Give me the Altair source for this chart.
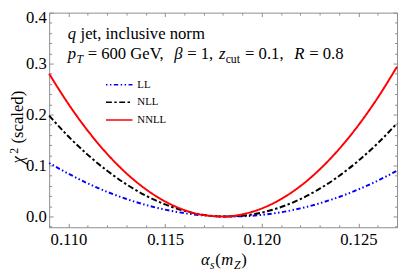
import altair as alt
import pandas as pd

# ---------------- data ----------------
alpha = [0.109, 0.110, 0.111, 0.112, 0.113, 0.114, 0.115, 0.116, 0.117, 0.118,
         0.119, 0.120, 0.121, 0.122, 0.123, 0.124, 0.125, 0.126, 0.127]
chi_LL = [0.105, 0.084, 0.065, 0.0485, 0.0344, 0.0227, 0.0135, 0.0066, 0.0022, 0.0001,
          0.0005, 0.0033, 0.0084, 0.0160, 0.0260, 0.0384, 0.0532, 0.0703, 0.0899]
chi_NLL = [0.198, 0.157, 0.121, 0.0898, 0.0631, 0.0411, 0.0238, 0.0112, 0.0033, 0.0001,
           0.0016, 0.0078, 0.0187, 0.0343, 0.0546, 0.0796, 0.1094, 0.1438, 0.1829]
chi_NNLL = [0.280, 0.2206, 0.1682, 0.1229, 0.0847, 0.0536, 0.0296, 0.0127, 0.0028, 0.0000,
            0.0044, 0.0158, 0.0343, 0.0598, 0.0925, 0.1323, 0.1791, 0.2330, 0.2940]

series = ["LL", "NLL", "NNLL"]
colors = ["#0000ff", "#000000", "#ff0000"]
dashes = [[1.5, 2.5, 1.5, 2.5, 4.5, 2.5], [6, 2.5, 2.5, 2.5], [1, 0]]

x_domain = [0.109, 0.127]
y_domain = [-0.021, 0.4]
x_major = [0.110, 0.115, 0.120, 0.125]
x_minor = [0.109, 0.111, 0.112, 0.113, 0.114, 0.116, 0.117, 0.118, 0.119,
           0.121, 0.122, 0.123, 0.124, 0.126, 0.127]
y_major = [0.0, 0.1, 0.2, 0.3, 0.4]
y_minor = [-0.02, 0.02, 0.04, 0.06, 0.08, 0.12, 0.14, 0.16, 0.18, 0.22, 0.24,
           0.26, 0.28, 0.32, 0.34, 0.36, 0.38]

# ---------------- build chart ----------------
FONT = "'Liberation Serif', 'Times New Roman', Times, serif"
W, H = 355, 219
FRAME = "#8c8c8c"
FS = 17
SUB = 12

rows = []
for name, vals in zip(series, [chi_LL, chi_NLL, chi_NNLL]):
    for a, c in zip(alpha, vals):
        rows.append({"alpha": a, "chi": c, "series": name})
df = pd.DataFrame(rows)

xs = alt.Scale(domain=x_domain, nice=False, zero=False)
ys = alt.Scale(domain=y_domain, nice=False, zero=False)

legend = alt.Legend(
    title=None, orient="none", legendX=66, legendY=68, padding=0,
    symbolType="M-3,0H3", symbolSize=81, symbolStrokeWidth=1.6,
    labelFont=FONT, labelFontSize=11, labelColor="black",
    labelOffset=13, rowPadding=6,
)

lines = alt.Chart(df).mark_line(interpolate="monotone", strokeWidth=2).encode(
    x=alt.X("alpha:Q", scale=xs, axis=alt.Axis(
        orient="bottom", values=x_major, format=".3f", ticks=False, domain=False,
        grid=False, labelFont=FONT, labelFontSize=FS, labelColor="black",
        labelPadding=5, title=None)),
    y=alt.Y("chi:Q", scale=ys, axis=alt.Axis(
        orient="left", values=y_major, format=".1f", ticks=False, domain=False,
        grid=False, labelFont=FONT, labelFontSize=FS, labelColor="black",
        labelPadding=3, title=None,
        labelOffset={"condition": {"test": "datum.value > 0.35", "value": 5}, "value": 0})),
    color=alt.Color("series:N", scale=alt.Scale(domain=series, range=colors), legend=legend),
    strokeDash=alt.StrokeDash("series:N", scale=alt.Scale(domain=series, range=dashes), legend=legend),
)


def tick_layer(xorient, xvals, yorient, yvals, size):
    return alt.Chart(df).mark_point(opacity=0).encode(
        x=alt.X("alpha:Q", scale=xs, axis=alt.Axis(
            orient=xorient, offset=-H, values=xvals, labels=False, domain=False,
            grid=False, ticks=True, tickSize=size, tickColor=FRAME, tickWidth=1,
            title=None)),
        y=alt.Y("chi:Q", scale=ys, axis=alt.Axis(
            orient=yorient, offset=-W, values=yvals, labels=False, domain=False,
            grid=False, ticks=True, tickSize=size, tickColor=FRAME, tickWidth=1,
            title=None)),
    )


ticks = [
    tick_layer("top", x_major, "right", y_major, 4),
    tick_layer("top", x_minor, "right", y_minor, 2.5),
    tick_layer("bottom", x_major, "left", y_major, 4),
    tick_layer("bottom", x_minor, "left", y_minor, 2.5),
]

one = pd.DataFrame({"k": [0]})


def txt(s, x, y, size=FS, style="normal", angle=0):
    return alt.Chart(one).mark_text(
        text=s, font=FONT, fontSize=size, fontStyle=style, align="left",
        baseline="alphabetic", angle=angle, color="black",
    ).encode(x=alt.value(x - 50), y=alt.value(y - 10))


texts = [
    # annotation line 1
    txt("q", 69, 37, style="italic"),
    txt("jet, inclusive norm", 82, 37),
    # annotation line 2
    txt("p", 69, 57, style="italic"),
    txt("T", 77.9, 61, size=SUB, style="italic"),
    txt("= 600 GeV,", 89.3, 57),
    txt("β", 177.6, 57, style="italic"),
    txt("= 1,", 190.9, 57),
    txt("z", 223.2, 57, style="italic"),
    txt("cut", 230.1, 61, size=SUB),
    txt("= 0.1,", 249.9, 57),
    txt("R", 300, 57, style="italic"),
    txt("= 0.8", 315.4, 57),
    # x axis title
    txt("α", 205, 268, style="italic"),
    txt("s", 214.2, 272, size=SUB, style="italic"),
    txt("(", 219.4, 268),
    txt("m", 225.6, 268, style="italic"),
    txt("Z", 238.6, 272, size=SUB, style="italic"),
    txt(")", 246, 268),
    # y axis title (rotated)
    txt("χ", 23, 164, style="italic", angle=270),
    txt("2", 18, 154, size=SUB, angle=270),
    txt("(scaled)", 23, 143.5, angle=270),
]

chart = alt.layer(lines, *ticks, *texts).resolve_axis(
    x="independent", y="independent"
).properties(
    width=W, height=H,
    autosize=alt.AutoSizeParams(type="none"),
    padding={"left": 42, "top": 2, "right": 2, "bottom": 46},
).configure_view(stroke=FRAME, strokeWidth=1)

chart.save("out.html", embed_options={"renderer": "svg", "actions": False})
